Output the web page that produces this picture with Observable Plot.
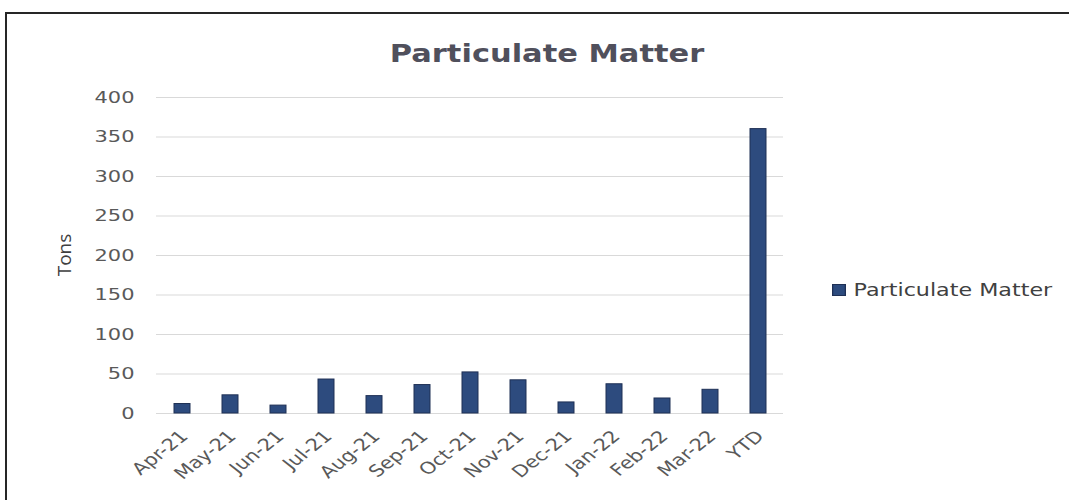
<!DOCTYPE html>
<html>
<head>
<meta charset="utf-8">
<script src="https://cdn.jsdelivr.net/npm/d3@7"></script>
<script src="https://cdn.jsdelivr.net/npm/@observablehq/plot@0.6"></script>
<style>
  html, body { margin: 0; padding: 0; background: #fff; width: 1069px; height: 500px; overflow: hidden; }
  #frame { position: absolute; left: 5px; top: 12px; width: 1080px; height: 520px; border: 2px solid #262626; box-sizing: border-box; }
  #title { position: absolute; left: 247px; width: 600px; top: 40px; text-align: center; font-family: "DejaVu Sans", sans-serif; font-weight: 700; font-size: 24px; color: #50505c; transform: scaleX(1.27); transform-origin: 50% 50%; white-space: nowrap; }
  #ylabel { position: absolute; left: 64px; top: 255px; transform: translate(-50%, -50%) rotate(-90deg); font-family: "Open Sans", sans-serif; font-size: 19px; color: #404040; white-space: nowrap; }
  #legend { position: absolute; left: 832px; top: 280px; font-family: "DejaVu Sans", sans-serif; font-size: 17.5px; color: #404040; display: flex; align-items: center; transform: scaleX(1.27); transform-origin: 0 50%; white-space: nowrap; }
  #legend .sw { width: 9px; height: 10px; background: #2d4b7e; border: 1px solid #1f3055; margin-right: 6px; }
  #chart { position: absolute; left: 0; top: 0; }
</style>
</head>
<body>
<div id="chart"></div>
<div id="frame"></div>
<div id="title">Particulate Matter</div>
<div id="ylabel">Tons</div>
<div id="legend"><div class="sw"></div><span>Particulate Matter</span></div>
<script>
const categories = ["Apr-21","May-21","Jun-21","Jul-21","Aug-21","Sep-21","Oct-21","Nov-21","Dec-21","Jan-22","Feb-22","Mar-22","YTD"];
const values = [12, 23, 10, 43, 22, 36, 52, 42, 14, 37, 19, 30, 360];
const yTicks = [0, 50, 100, 150, 200, 250, 300, 350, 400];

const data = categories.map((c, i) => ({cat: c, value: values[i]}));

const chart = Plot.plot({
  width: 1069,
  height: 500,
  marginLeft: 156,
  marginRight: 286,
  marginTop: 97,
  marginBottom: 87,
  style: {fontFamily: "DejaVu Sans, sans-serif", fontSize: "16.5px", color: "#595959", background: "transparent"},
  x: {domain: categories, paddingInner: 0.67, paddingOuter: 0.335, label: null},
  y: {domain: [0, 400], label: null},
  marks: [
    Plot.gridY(yTicks, {stroke: "#d9d9d9", strokeOpacity: 1}),
    Plot.axisY(yTicks, {tickSize: 0, tickPadding: 22, fontSize: 16.5, label: null}),
    Plot.axisX({tickSize: 0, tickRotate: -45, tickPadding: 20, dx: 2, fontSize: 16.5, label: null}),
    Plot.barY(data, {x: "cat", y: "value", fill: "#2d4b7e", stroke: "#1f3055", strokeWidth: 1})
  ]
});
// horizontal stretch of the reference's glyphs
d3.select(chart).selectAll('g[aria-label="y-axis tick label"] text, g[aria-label="x-axis tick label"] text').each(function() {
  const t = this.getAttribute("transform") || "";
  if (t.includes("rotate")) this.setAttribute("transform", t.replace("rotate", "scale(1.27,1) rotate"));
  else this.setAttribute("transform", t + " scale(1.27,1)");
});
document.getElementById("chart").appendChild(chart);
</script>
</body>
</html>
